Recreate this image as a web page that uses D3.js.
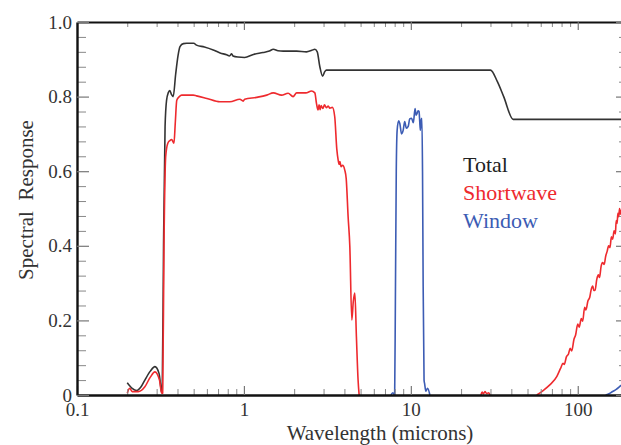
<!DOCTYPE html>
<html>
<head>
<meta charset="utf-8">
<script src="https://cdn.jsdelivr.net/npm/d3@7"></script>
<style>
  body { margin: 0; background: #fff; }
  svg text { font-family: "Liberation Serif", "Times New Roman", Times, Tinos, "DejaVu Serif", serif; }
</style>
</head>
<body>
<svg id="chart"></svg>
<script>
var W = 621, H = 445;
var margin = { left: 77, right: 628, top: 22, bottom: 395 };
var serif = '"Liberation Serif", "Times New Roman", Times, Tinos, "DejaVu Serif", serif';

// tick labels
var xMajor = [0.1, 1, 10, 100];
var yMajor = [0, 0.2, 0.4, 0.6, 0.8, 1.0];

// Total spectral response [wavelength (microns), response]
var total = [
  [0.200, 0.033], [0.214, 0.018], [0.228, 0.012], [0.242, 0.022], [0.255, 0.040], [0.275, 0.064],
  [0.293, 0.076], [0.310, 0.058], [0.321, 0.009], [0.324, 0.006], [0.330, 0.40],
  [0.337, 0.72], [0.344, 0.79], [0.352, 0.81], [0.360, 0.816], [0.368, 0.806], [0.377, 0.80],
  [0.390, 0.86], [0.403, 0.91], [0.414, 0.934], [0.434, 0.942], [0.454, 0.943], [0.50, 0.943],
  [0.52, 0.938], [0.58, 0.933], [0.655, 0.925], [0.72, 0.917], [0.788, 0.912], [0.82, 0.909],
  [0.844, 0.915], [0.86, 0.909], [0.92, 0.906], [1.01, 0.905], [1.14, 0.913], [1.30, 0.918],
  [1.42, 0.922], [1.50, 0.927], [1.60, 0.923], [1.72, 0.922], [2.07, 0.922], [2.37, 0.920],
  [2.55, 0.924], [2.66, 0.927], [2.75, 0.920], [2.85, 0.88], [2.96, 0.855], [3.05, 0.867],
  [3.12, 0.871], [10, 0.871], [30, 0.871], [33, 0.84], [36, 0.80], [41, 0.739], [200, 0.739]
];

// Shortwave channel, short wavelength part
var shortwave = [
  [0.200, 0.005], [0.207, 0.018], [0.214, 0.009], [0.233, 0.009], [0.255, 0.022], [0.275, 0.048],
  [0.293, 0.062], [0.312, 0.040], [0.321, 0.006], [0.326, 0.005], [0.332, 0.40],
  [0.340, 0.64], [0.350, 0.675], [0.360, 0.682], [0.369, 0.685], [0.381, 0.675], [0.388, 0.73],
  [0.396, 0.79], [0.410, 0.80], [0.424, 0.804], [0.497, 0.804], [0.52, 0.802], [0.60, 0.795],
  [0.718, 0.786], [0.824, 0.786], [0.946, 0.793], [0.99, 0.788], [1.01, 0.793], [1.19, 0.798],
  [1.37, 0.804], [1.50, 0.81], [1.68, 0.804], [1.84, 0.809], [1.97, 0.80], [2.07, 0.81],
  [2.35, 0.81], [2.54, 0.815], [2.66, 0.81], [2.72, 0.782], [2.78, 0.764], [2.82, 0.778],
  [2.86, 0.765], [2.90, 0.776], [2.97, 0.768], [3.04, 0.778], [3.12, 0.770], [3.20, 0.775],
  [3.27, 0.769], [3.39, 0.771], [3.50, 0.746], [3.60, 0.66], [3.67, 0.63], [3.72, 0.618],
  [3.76, 0.626], [3.82, 0.612], [3.90, 0.616], [4.02, 0.603], [4.10, 0.58], [4.21, 0.478],
  [4.31, 0.398], [4.43, 0.201], [4.52, 0.25], [4.62, 0.273], [4.72, 0.156], [4.83, 0.04], [4.90, 0]
];

// Shortwave channel, small leak near 27 microns
var shortwaveLeak = [
  [26.3, 0], [26.7, 0.008], [27.2, 0.003], [27.8, 0.009], [28.5, 0.004], [29.3, 0.006], [29.8, 0]
];

// Shortwave channel, far infrared rise
var shortwaveFar = [
  [56.8, 0], [62, 0.012], [68, 0.027], [75, 0.05], [79, 0.072], [81.6, 0.085], [83, 0.082],
  [85.6, 0.103], [88, 0.11], [90, 0.125], [92, 0.118], [95, 0.15], [97, 0.16], [100, 0.19],
  [102, 0.182], [105, 0.205], [107, 0.198], [110, 0.235], [112, 0.228], [115, 0.252],
  [118, 0.262], [120, 0.28], [123, 0.292], [125, 0.28], [127, 0.281], [130, 0.31],
  [133, 0.322], [135, 0.315], [138, 0.345], [141, 0.355], [144, 0.35], [147, 0.372],
  [150, 0.385], [153, 0.40], [156, 0.395], [159, 0.424], [162, 0.418], [165, 0.44],
  [168, 0.432], [170, 0.468], [172, 0.46], [174, 0.487], [176, 0.478], [178, 0.50],
  [180, 0.485], [182, 0.495], [190, 0.50], [200, 0.51]
];

// Window channel
var windowBand = [
  [7.6, 0], [7.8, 0.006], [8.0, 0], [8.08, 0.25], [8.18, 0.60], [8.28, 0.71], [8.45, 0.735],
  [8.59, 0.728], [8.8, 0.70], [9.0, 0.71], [9.19, 0.733], [9.4, 0.715], [9.64, 0.72],
  [9.85, 0.74], [10.1, 0.742], [10.35, 0.73], [10.6, 0.768], [10.75, 0.75], [10.9, 0.755],
  [11.05, 0.762], [11.2, 0.76], [11.3, 0.735], [11.4, 0.71], [11.5, 0.735], [11.65, 0.742],
  [11.75, 0.60], [11.85, 0.30], [12.0, 0.04], [12.1, 0.03], [12.3, 0.01], [12.6, 0.018], [13.0, 0]
];

// Window channel, far infrared tail
var windowFar = [
  [147, 0], [155, 0.004], [160, 0.008], [170, 0.015], [181, 0.025], [200, 0.04]
];

var svg = d3.select('#chart')
  .attr('width', W)
  .attr('height', H);

var x = d3.scaleLog()
  .domain([0.1, 200])
  .range([margin.left, margin.right]);

var y = d3.scaleLinear()
  .domain([0, 1])
  .range([margin.bottom, margin.top]);

// minor tick positions: 2..9 within each decade, 0.04 steps on y
var xMinor = [];
[0.1, 1, 10, 100].forEach(function(d) {
  for (var k = 2; k <= 9; k++) {
    if (d * k <= 200) xMinor.push(d * k);
  }
});
var yMinor = d3.range(0, 1.0001, 0.04).filter(function(v) {
  return Math.abs(v * 5 - Math.round(v * 5)) > 1e-6;
});

var defs = svg.append('defs');
defs.append('clipPath').attr('id', 'plot')
  .append('rect')
  .attr('x', margin.left).attr('y', margin.top)
  .attr('width', margin.right - margin.left)
  .attr('height', margin.bottom - margin.top);

var line = d3.line()
  .x(function(d) { return x(d[0]); })
  .y(function(d) { return y(d[1]); })
  .curve(d3.curveMonotoneX);

var curves = [
  { data: total, color: '#333333' },
  { data: shortwave, color: '#ee2a2e' },
  { data: shortwaveLeak, color: '#ee2a2e' },
  { data: shortwaveFar, color: '#ee2a2e' },
  { data: windowBand, color: '#3c5cb4' },
  { data: windowFar, color: '#3c5cb4' }
];

svg.append('g')
  .attr('clip-path', 'url(#plot)')
  .selectAll('path')
  .data(curves)
  .enter()
  .append('path')
  .attr('d', function(d) { return line(d.data); })
  .attr('fill', 'none')
  .attr('stroke', function(d) { return d.color; })
  .attr('stroke-width', 1.6)
  .attr('stroke-linejoin', 'round');

function styleAxis(g, width, size) {
  g.attr('font-family', serif);
  g.selectAll('.domain').attr('stroke', '#111').attr('stroke-width', width);
  g.selectAll('.tick line').attr('stroke', '#777').attr('stroke-width', 1.2);
  g.selectAll('text')
    .attr('fill', '#333')
    .style('font-family', serif)
    .style('font-size', (size || 20) + 'px');
}

function minorStyle(g) {
  g.select('.domain').remove();
  g.selectAll('.tick line').attr('stroke', '#888');
}

// bottom axis
svg.append('g')
  .attr('transform', 'translate(0,' + margin.bottom + ')')
  .call(d3.axisBottom(x).tickValues(xMinor).tickSize(-6).tickSizeOuter(0).tickFormat(''))
  .call(minorStyle);

svg.append('g')
  .attr('transform', 'translate(0,' + margin.bottom + ')')
  .call(d3.axisBottom(x).tickValues(xMajor).tickSize(-9).tickSizeOuter(0).tickPadding(8)
    .tickFormat(function(d) { return String(d); }))
  .call(function(g) { styleAxis(g, 2.4, 19); });

// top axis
svg.append('g')
  .attr('transform', 'translate(0,' + margin.top + ')')
  .call(d3.axisTop(x).tickValues(xMinor).tickSize(-5).tickSizeOuter(0).tickFormat(''))
  .call(minorStyle);

svg.append('g')
  .attr('transform', 'translate(0,' + margin.top + ')')
  .call(d3.axisTop(x).tickValues(xMajor).tickSize(-8).tickSizeOuter(0).tickFormat(''))
  .call(function(g) { styleAxis(g, 1.8); });

// left axis
svg.append('g')
  .attr('transform', 'translate(' + margin.left + ',0)')
  .call(d3.axisLeft(y).tickValues(yMinor).tickSize(-9).tickSizeOuter(0).tickFormat(''))
  .call(minorStyle);

svg.append('g')
  .attr('transform', 'translate(' + margin.left + ',0)')
  .call(d3.axisLeft(y).tickValues(yMajor).tickSize(-12).tickSizeOuter(0).tickPadding(5)
    .tickFormat(function(d) { return d === 0 ? '0' : d3.format('.1f')(d); }))
  .call(function(g) { styleAxis(g, 2.4, 19); });

// right axis
svg.append('g')
  .attr('transform', 'translate(' + margin.right + ',0)')
  .call(d3.axisRight(y).tickValues(yMinor).tickSize(-9).tickSizeOuter(0).tickFormat(''))
  .call(minorStyle);

svg.append('g')
  .attr('transform', 'translate(' + margin.right + ',0)')
  .call(d3.axisRight(y).tickValues(yMajor).tickSize(-12).tickSizeOuter(0).tickFormat(''))
  .call(function(g) { styleAxis(g, 2.4); });

// axis titles
svg.append('text')
  .attr('x', 380)
  .attr('y', 440)
  .attr('text-anchor', 'middle')
  .attr('fill', '#333')
  .style('font-family', serif)
  .style('font-size', '21px')
  .text('Wavelength (microns)');

svg.append('text')
  .attr('transform', 'translate(33,200) rotate(-90)')
  .attr('text-anchor', 'middle')
  .attr('fill', '#333')
  .style('font-family', serif)
  .style('font-size', '21px')
  .style('white-space', 'pre')
  .text('Spectral  Response');

// legend
var legend = [
  { name: 'Total', color: '#222222' },
  { name: 'Shortwave', color: '#ee2a2e' },
  { name: 'Window', color: '#3c5cb4' }
];

svg.selectAll('text.legend')
  .data(legend)
  .enter()
  .append('text')
  .attr('class', 'legend')
  .attr('x', 463)
  .attr('y', function(d, i) { return 172 + i * 28; })
  .attr('fill', function(d) { return d.color; })
  .style('font-family', serif)
  .style('font-size', '22px')
  .text(function(d) { return d.name; });
</script>
</body>
</html>
